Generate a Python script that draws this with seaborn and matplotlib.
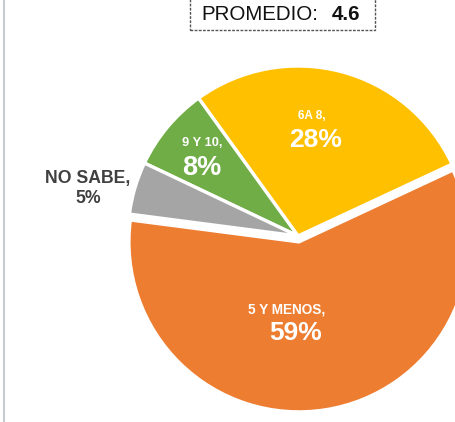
import matplotlib
matplotlib.use('Agg')
import matplotlib.pyplot as plt
from matplotlib.patches import Rectangle
from matplotlib.lines import Line2D
import seaborn as sns

categories = ['5 Y MENOS', '6A 8', '9 Y 10', 'NO SABE']
percents = [59, 28, 8, 5]
colors = ['#ED7D31', '#FFC000', '#70AD47', '#A5A5A5']
explode = [0.035, 0, 0, 0]
promedio = 4.6

sns.set_theme(style='white')
plt.rcParams['font.family'] = ['Liberation Sans', 'DejaVu Sans']

W, H = 456, 422
fig = plt.figure(figsize=(W / 100, H / 100), dpi=100)
ax = fig.add_axes([0, 0, 1, 1])

# pie centre at (298, 236) px, radius 170 px
cx, cy, r = 298, 236, 170
ax.pie(percents, colors=sns.color_palette(colors), explode=explode, startangle=172.6,
       counterclock=True, radius=1, center=(0, 0),
       wedgeprops={'edgecolor': 'white', 'linewidth': 2.4})
ax.set_xlim(-cx / r, (W - cx) / r)
ax.set_ylim(-(H - cy) / r, cy / r)
ax.set_aspect('auto')
ax.axis('off')


def px(x, y):
    return x / W, 1 - y / H


# slice labels: name pos, value pos, colour, name size, value size
label_pos = {
    '5 Y MENOS': ((287, 310), (296, 333), 'white', 9.8, 19),
    '6A 8': ((312, 116), (316, 140), 'white', 8.5, 19),
    '9 Y 10': ((202, 143), (202, 168), 'white', 9.3, 19.5),
    'NO SABE': ((88, 178), (88, 199), '#404040', 12.7, 12.7),
}
for cat, pct in zip(categories, percents):
    p1, p2, col, s1, s2 = label_pos[cat]
    fig.text(*px(*p1), cat + ',', ha='center', va='center', color=col,
             fontsize=s1, fontweight='bold')
    fig.text(*px(*p2), f'{pct}%', ha='center', va='center', color=col,
             fontsize=s2, fontweight='bold')

# PROMEDIO box
fig.patches.append(Rectangle(px(190, 30), 185 / W, 40 / H, transform=fig.transFigure,
                             fill=False, edgecolor='#555555', linewidth=1,
                             linestyle=(0, (2, 1))))
fig.text(*px(201, 20), 'PROMEDIO:', ha='left', va='baseline', fontsize=14.8, color='#111111')
fig.text(*px(332, 20), f'{promedio}', ha='left', va='baseline', fontsize=14.8,
         fontweight='bold', color='#111111')

# left border line
fig.lines.append(Line2D([4 / W, 4 / W], [0, 1], transform=fig.transFigure,
                        color='#c6cad1', linewidth=1.5))

fig.savefig('out.png', dpi=100)
